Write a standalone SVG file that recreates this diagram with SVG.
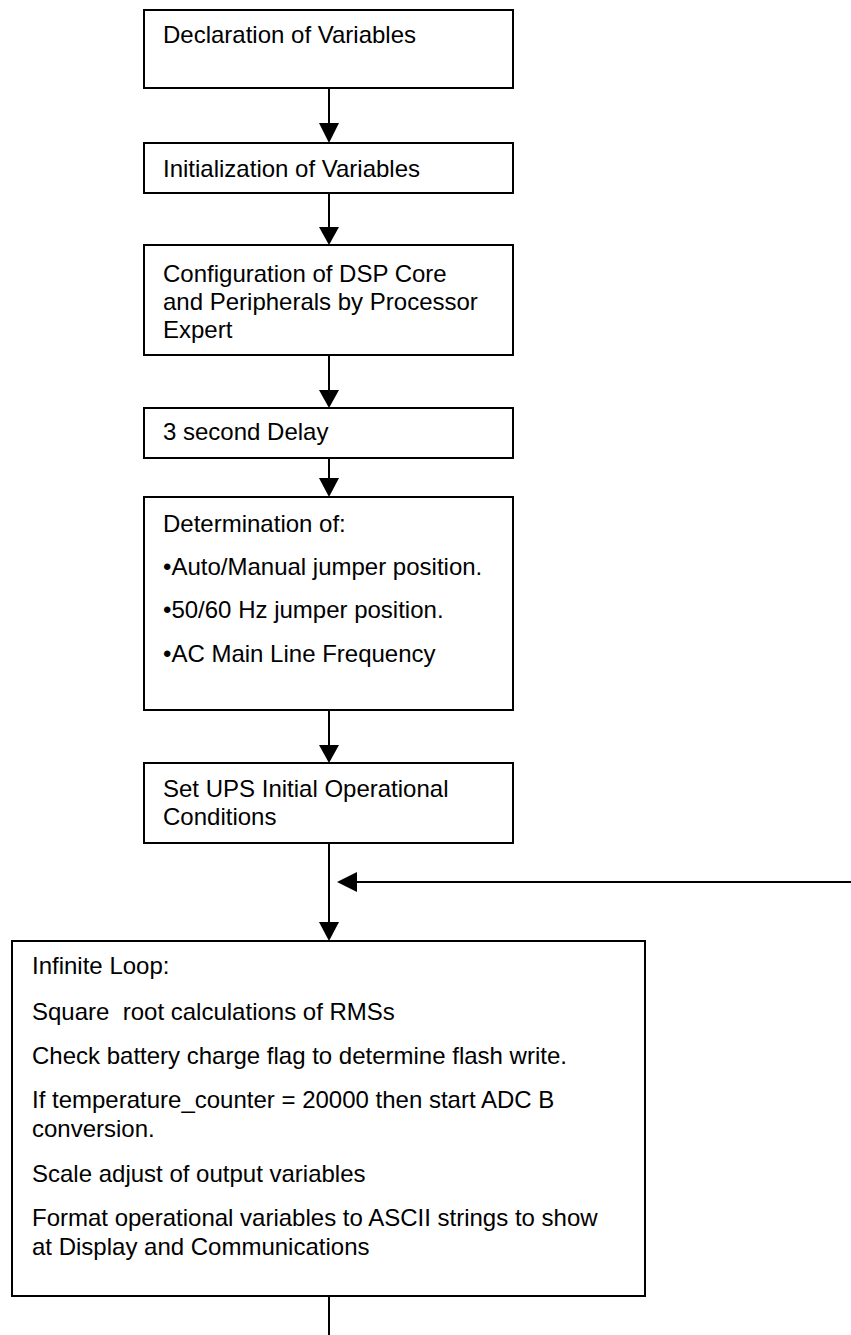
<svg xmlns="http://www.w3.org/2000/svg" width="851" height="1335" viewBox="0 0 851 1335">
<style>
.box{fill:#fff;stroke:#000;stroke-width:2}
.t{font-family:"Liberation Sans",Arial,sans-serif;font-size:24px;fill:#000}
.c{stroke:#000;stroke-width:2;fill:none}
.h{fill:#000;stroke:none}
</style>
<rect width="851" height="1335" fill="#fff"/>
<g id="connectors">
<line class="c" x1="329" y1="88" x2="329" y2="125"/><polygon class="h" points="319,123 339,123 329,143"/>
<line class="c" x1="329" y1="193" x2="329" y2="229"/><polygon class="h" points="319,227 339,227 329,245"/>
<line class="c" x1="329" y1="355" x2="329" y2="392"/><polygon class="h" points="319,390 339,390 329,408"/>
<line class="c" x1="329" y1="458" x2="329" y2="480"/><polygon class="h" points="319,478 339,478 329,497"/>
<line class="c" x1="329" y1="710" x2="329" y2="747"/><polygon class="h" points="319,745 339,745 329,763"/>
<line class="c" x1="329" y1="843" x2="329" y2="924"/><polygon class="h" points="319,922 339,922 329,941"/>
<line class="c" x1="851" y1="882" x2="355" y2="882"/><polygon class="h" points="357,872 357,892 337,882"/>
<line class="c" x1="329" y1="1296" x2="329" y2="1335"/>
</g>
<g id="n1"><rect class="box" x="144" y="10" width="369" height="78"/><text class="t" x="163" y="43">Declaration of Variables</text></g>
<g id="n2"><rect class="box" x="144" y="143" width="369" height="50"/><text class="t" x="163" y="177">Initialization of Variables</text></g>
<g id="n3"><rect class="box" x="144" y="245" width="369" height="110"/><text class="t" x="163" y="282">Configuration of DSP Core</text><text class="t" x="163" y="310">and Peripherals by Processor</text><text class="t" x="163" y="338">Expert</text></g>
<g id="n4"><rect class="box" x="144" y="408" width="369" height="50"/><text class="t" x="163" y="440">3 second Delay</text></g>
<g id="n5"><rect class="box" x="144" y="497" width="369" height="213"/><text class="t" x="163" y="532">Determination of:</text><text class="t" x="163" y="575">•Auto/Manual jumper position.</text><text class="t" x="163" y="618">•50/60 Hz jumper position.</text><text class="t" x="163" y="662">•AC Main Line Frequency</text></g>
<g id="n6"><rect class="box" x="144" y="763" width="369" height="80"/><text class="t" x="163" y="797">Set UPS Initial Operational</text><text class="t" x="163" y="825">Conditions</text></g>
<g id="n7"><rect class="box" x="12" y="941" width="633" height="355"/>
<text class="t" x="32" y="974">Infinite Loop:</text>
<text class="t" x="32" y="1020" xml:space="preserve">Square  root calculations of RMSs</text>
<text class="t" x="32" y="1064">Check battery charge flag to determine flash write.</text>
<text class="t" x="32" y="1108">If temperature_counter = 20000 then start ADC B</text>
<text class="t" x="32" y="1137">conversion.</text>
<text class="t" x="32" y="1182">Scale adjust of output variables</text>
<text class="t" x="32" y="1226">Format operational variables to ASCII strings to show</text>
<text class="t" x="32" y="1255">at Display and Communications</text>
</g>
</svg>
